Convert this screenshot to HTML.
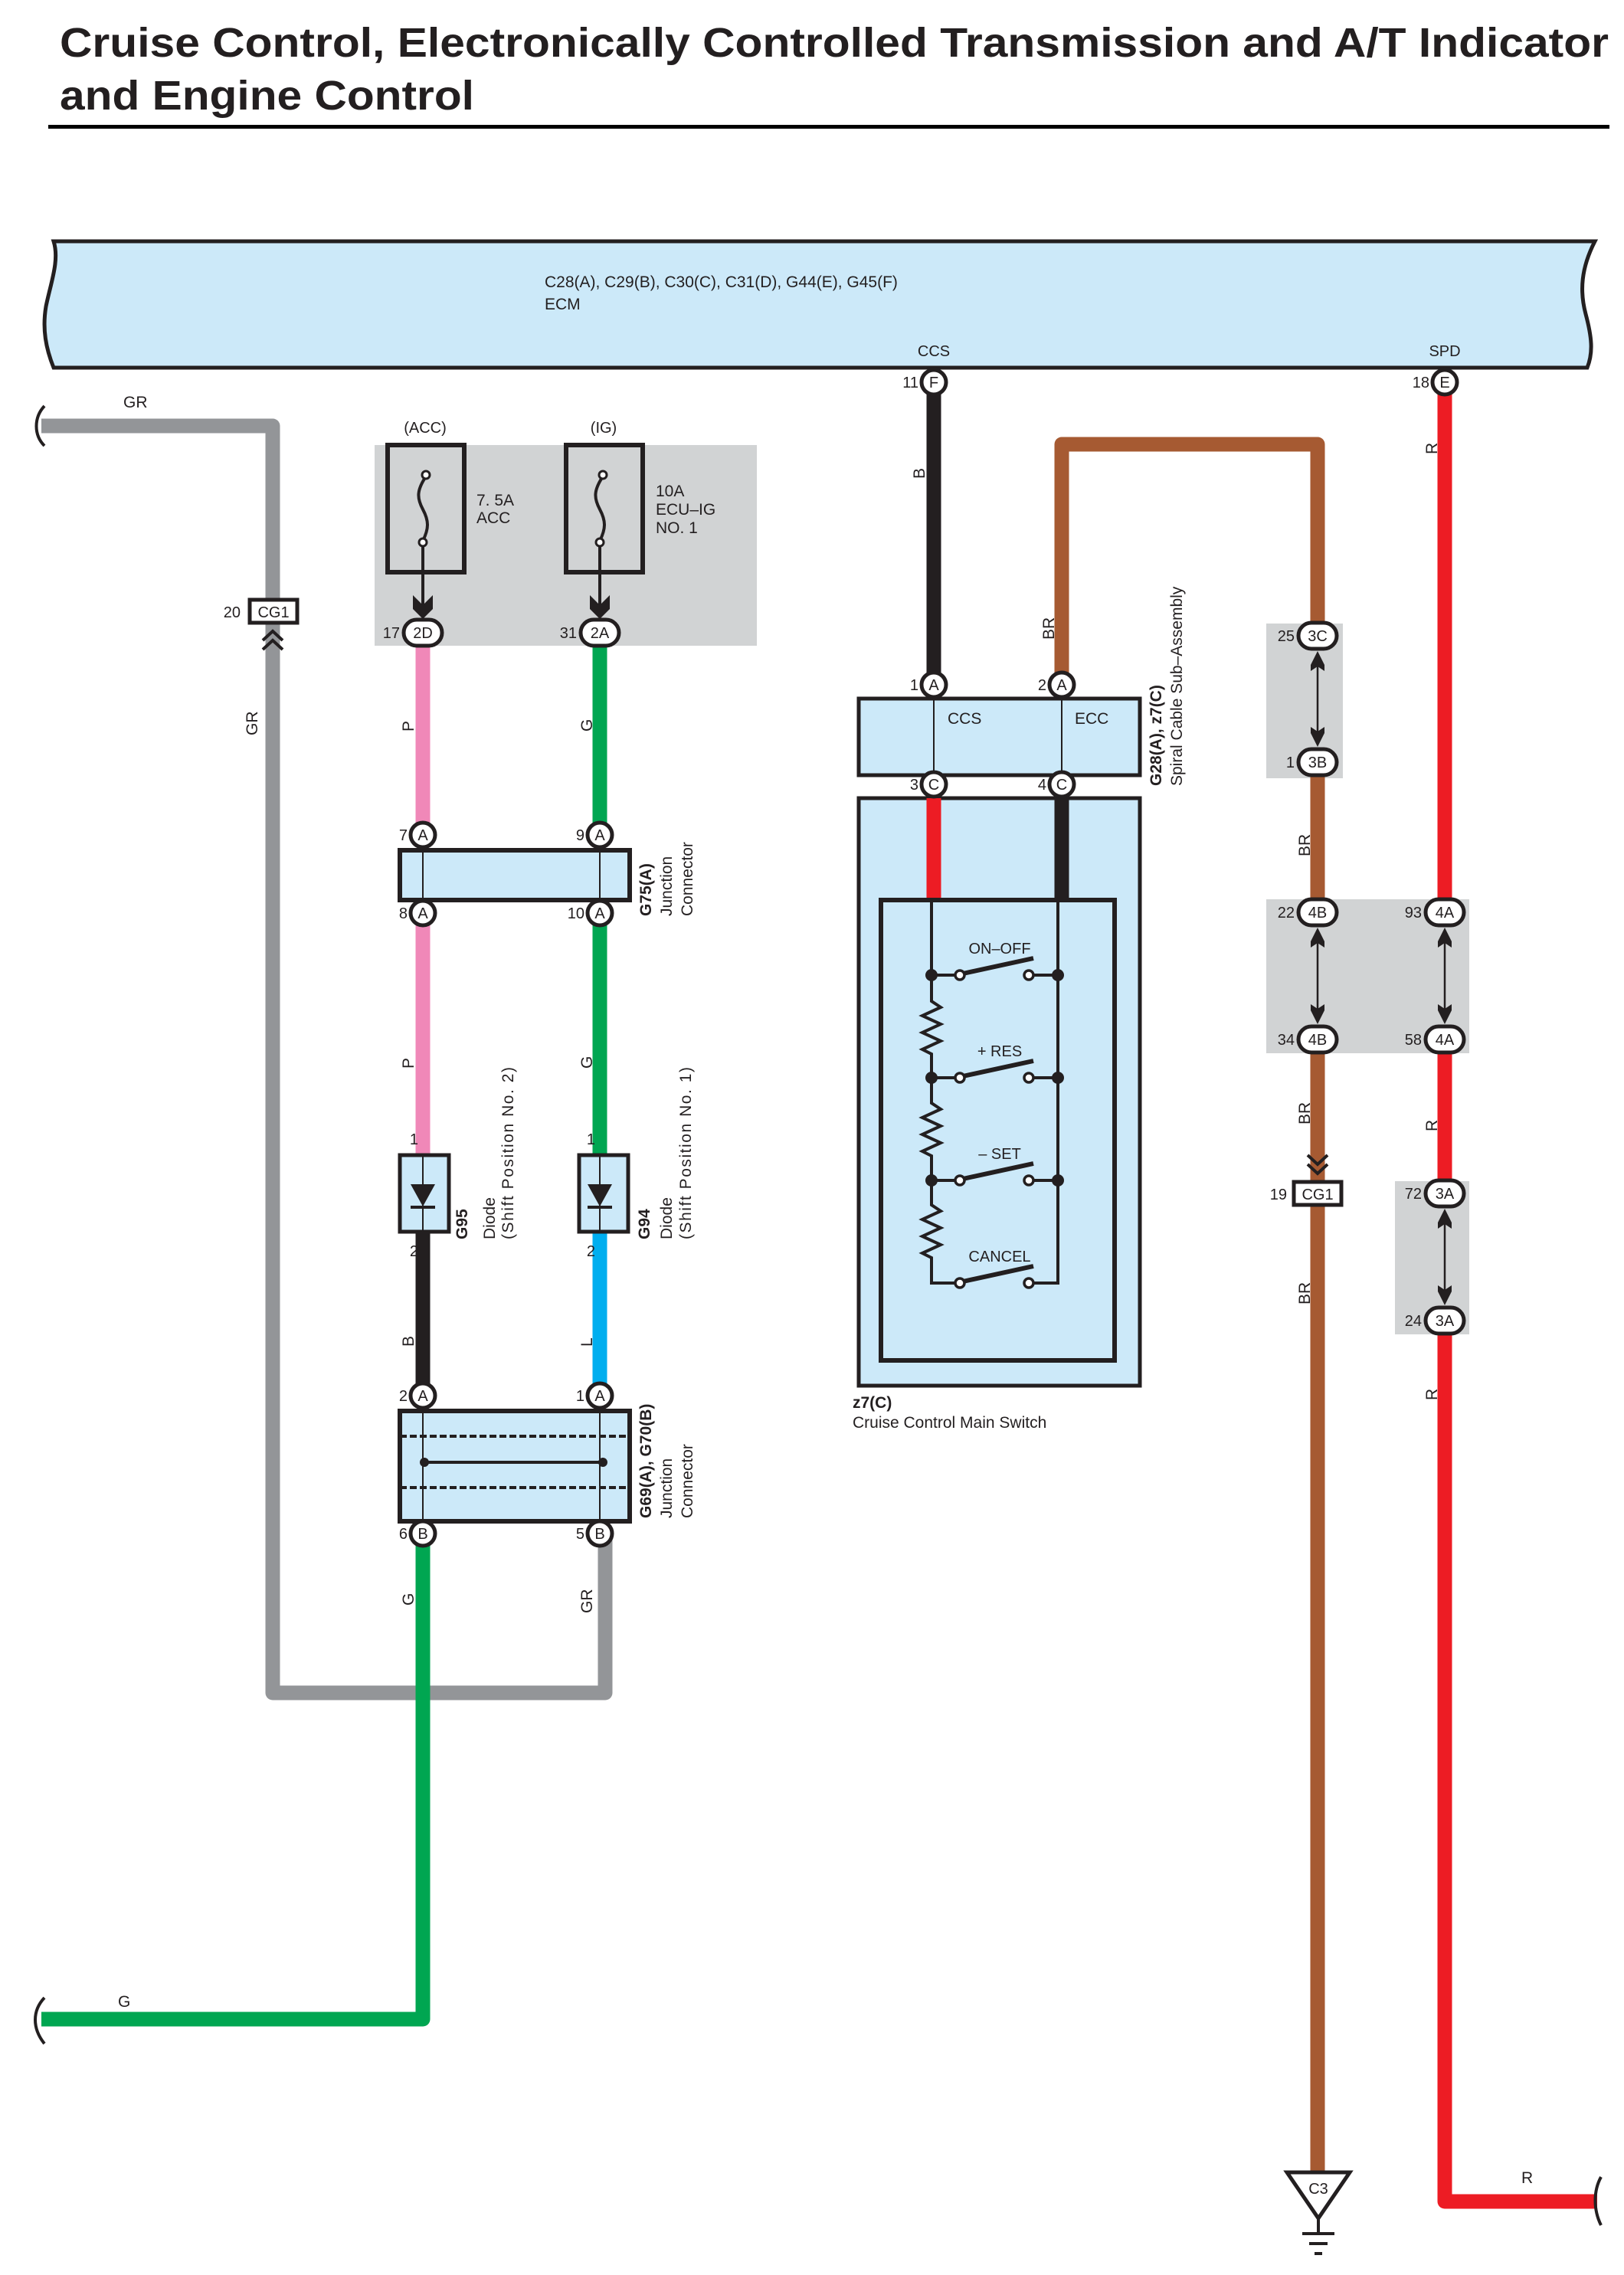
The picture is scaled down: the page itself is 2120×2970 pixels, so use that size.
<!DOCTYPE html>
<html><head><meta charset="utf-8"><style>
html,body{margin:0;padding:0;background:#fff}
svg{display:block}
text{font-family:"Liberation Sans",Arial,sans-serif;fill:#231f20}
.t{font-size:21px}
.p{font-size:20px;text-anchor:middle}
.n{font-size:20px;text-anchor:end}
.b{font-weight:bold}
</style></head><body>
<svg width="2120" height="2970" viewBox="0 0 2120 2970" xmlns="http://www.w3.org/2000/svg">
<!-- Title -->
<text x="78" y="74" font-size="54" font-weight="bold" textLength="2022" lengthAdjust="spacingAndGlyphs">Cruise Control, Electronically Controlled Transmission and A/T Indicator</text>
<text x="78" y="143" font-size="54" font-weight="bold" textLength="541" lengthAdjust="spacingAndGlyphs">and Engine Control</text>
<rect x="63" y="163" width="2038" height="5" fill="#000"/>

<!-- ECM -->
<path d="M70,315 L2082,315 C2064,350 2062,380 2070,410 C2078,440 2080,460 2072,480 L70,480 C60,455 55,430 60,400 C66,370 78,340 70,315 Z" fill="#cce9f9" stroke="#231f20" stroke-width="5"/>
<text x="711" y="375" class="t">C28(A), C29(B), C30(C), C31(D), G44(E), G45(F)</text>
<text x="711" y="404" class="t">ECM</text>
<text x="1219" y="465" class="p">CCS</text>
<text x="1886" y="465" class="p">SPD</text>

<!-- grey boxes -->
<rect x="489" y="581" width="499" height="262" fill="#d1d3d4"/>
<rect x="1653" y="814" width="100" height="202" fill="#d1d3d4"/>
<rect x="1653" y="1174" width="265" height="201" fill="#d1d3d4"/>
<rect x="1821" y="1542" width="97" height="200" fill="#d1d3d4"/>

<!-- wires -->
<g fill="none" stroke-width="19" stroke-linejoin="round">
<path d="M54,556 L356,556 L356,800" stroke="#939598"/>
<path d="M356,810 L356,2210 L790,2210 L790,2002" stroke="#939598"/>
<path d="M552,826 V1090 M552,1192 V1506" stroke="#f088b8"/>
<path d="M783,826 V1090 M783,1192 V1506" stroke="#00a651"/>
<path d="M552,1609 V1822" stroke="#231f20"/>
<path d="M783,1609 V1822" stroke="#00aeef"/>
<path d="M552,2002 V2636 L54,2636" stroke="#00a651"/>
<path d="M1219,499 V894" stroke="#231f20"/>
<path d="M1386,894 V580 L1720,580 V830" stroke="#a65a32"/>
<path d="M1720,995 V1191 M1720,1357 V2840" stroke="#a65a32"/>
<path d="M1886,499 V1191 M1886,1357 V1558 M1886,1724 V2874 L2085,2874" stroke="#ed1c24"/>
<path d="M1219,1024 V1175" stroke="#ed1c24"/>
<path d="M1386,1024 V1175" stroke="#231f20"/>
</g>
<!-- wavy breaks -->
<g fill="none" stroke="#231f20" stroke-width="4">
<path d="M58,530 C44,545 44,568 58,582"/>
<path d="M58,2608 C42,2625 42,2648 58,2668"/>
<path d="M2090,2842 C2080,2860 2080,2885 2090,2905"/>
</g>

<!-- wire labels -->
<g class="t">
<text x="161" y="532" font-size="21">GR</text>
<text x="154" y="2620" font-size="21">G</text>
<text x="1986" y="2850" font-size="21">R</text>
<text transform="translate(336,960) rotate(-90)">GR</text>
<text transform="translate(540,955) rotate(-90)">P</text>
<text transform="translate(773,955) rotate(-90)">G</text>
<text transform="translate(540,1395) rotate(-90)">P</text>
<text transform="translate(773,1395) rotate(-90)">G</text>
<text transform="translate(540,1758) rotate(-90)">B</text>
<text transform="translate(773,1758) rotate(-90)">L</text>
<text transform="translate(540,2096) rotate(-90)">G</text>
<text transform="translate(773,2106) rotate(-90)">GR</text>
<text transform="translate(1207,625) rotate(-90)">B</text>
<text transform="translate(1376,835) rotate(-90)">BR</text>
<text transform="translate(1876,593) rotate(-90)">R</text>
<text transform="translate(1207,1127) rotate(-90)">R</text>
<text transform="translate(1376,1127) rotate(-90)">B</text>
<text transform="translate(1710,1118) rotate(-90)">BR</text>
<text transform="translate(1710,1468) rotate(-90)">BR</text>
<text transform="translate(1710,1703) rotate(-90)">BR</text>
<text transform="translate(1876,1477) rotate(-90)">R</text>
<text transform="translate(1876,1828) rotate(-90)">R</text>
</g>

<!-- fuses -->
<g fill="none" stroke="#231f20">
<rect x="506" y="581" width="100" height="166" stroke-width="6"/>
<rect x="739" y="581" width="100" height="166" stroke-width="6"/>
<path d="M556,622 C544,640 544,650 552,665 C560,680 560,690 552,706" stroke-width="4"/>
<path d="M787,622 C775,640 775,650 783,665 C791,680 791,690 783,706" stroke-width="4"/>
<path d="M552,710 V800 M783,710 V800" stroke-width="4"/>
</g>
<circle cx="556" cy="620" r="5" fill="#fff" stroke="#231f20" stroke-width="3"/>
<circle cx="552" cy="708" r="5" fill="#fff" stroke="#231f20" stroke-width="3"/>
<circle cx="787" cy="620" r="5" fill="#fff" stroke="#231f20" stroke-width="3"/>
<circle cx="783" cy="708" r="5" fill="#fff" stroke="#231f20" stroke-width="3"/>
<path d="M539,777 L552,790 L565,777 L565,795 L552,808 L539,795 Z" fill="#231f20"/>
<path d="M770,777 L783,790 L796,777 L796,795 L783,808 L770,795 Z" fill="#231f20"/>
<text x="555" y="565" class="p">(ACC)</text>
<text x="788" y="565" class="p">(IG)</text>
<text x="622" y="660" class="t">7. 5A</text>
<text x="622" y="683" class="t">ACC</text>
<text x="856" y="648" class="t">10A</text>
<text x="856" y="672" class="t">ECU–IG</text>
<text x="856" y="696" class="t">NO. 1</text>

<!-- spiral cable -->
<rect x="1121" y="912" width="367" height="100" fill="#cce9f9" stroke="#231f20" stroke-width="5"/>
<path d="M1219,912 V1012 M1386,912 V1012" stroke="#231f20" stroke-width="2"/>
<text x="1237" y="945" class="t">CCS</text>
<text x="1403" y="945" class="t">ECC</text>
<text transform="translate(1516,1026) rotate(-90)" class="t b">G28(A), z7(C)</text>
<text transform="translate(1543,1026) rotate(-90)" class="t">Spiral Cable Sub–Assembly</text>

<!-- main switch -->
<rect x="1121" y="1042" width="367" height="767" fill="#cce9f9" stroke="#231f20" stroke-width="5"/>
<path d="M1219,1042 V1175" stroke="#ed1c24" stroke-width="19"/>
<path d="M1386,1042 V1175" stroke="#231f20" stroke-width="19"/>
<rect x="1150" y="1175" width="305" height="601" fill="none" stroke="#231f20" stroke-width="6"/>
<g fill="none" stroke="#231f20" stroke-width="4">
<path d="M1216,1175 V1307 l12,8 l-24,11 l24,11 l-24,11 l24,11 l-24,11 l12,6 V1440 l12,8 l-24,11 l24,11 l-24,11 l24,11 l-24,11 l12,6 V1573 l12,8 l-24,11 l24,11 l-24,11 l24,11 l-24,11 l12,6 V1675 H1249"/>
<path d="M1381,1175 V1675 H1347"/>
<path d="M1216,1273 H1249 M1216,1407 H1249 M1216,1541 H1249"/>
<path d="M1381,1273 H1347 M1381,1407 H1347 M1381,1541 H1347"/>
</g>
<g stroke="#231f20" stroke-width="6">
<path d="M1257,1271 L1349,1251 M1257,1405 L1349,1385 M1257,1539 L1349,1519 M1257,1673 L1349,1653"/>
</g>
<g fill="#231f20">
<circle cx="1216" cy="1273" r="8"/><circle cx="1381" cy="1273" r="8"/>
<circle cx="1216" cy="1407" r="8"/><circle cx="1381" cy="1407" r="8"/>
<circle cx="1216" cy="1541" r="8"/><circle cx="1381" cy="1541" r="8"/>
</g>
<g fill="#fff" stroke="#231f20" stroke-width="3.5">
<circle cx="1253" cy="1273" r="6"/><circle cx="1343" cy="1273" r="6"/>
<circle cx="1253" cy="1407" r="6"/><circle cx="1343" cy="1407" r="6"/>
<circle cx="1253" cy="1541" r="6"/><circle cx="1343" cy="1541" r="6"/>
<circle cx="1253" cy="1675" r="6"/><circle cx="1343" cy="1675" r="6"/>
</g>
<text x="1305" y="1245" class="p" font-size="22">ON–OFF</text>
<text x="1305" y="1379" class="p" font-size="22">+ RES</text>
<text x="1305" y="1513" class="p" font-size="22">– SET</text>
<text x="1305" y="1647" class="p" font-size="22">CANCEL</text>
<text x="1113" y="1838" class="t b">z7(C)</text>
<text x="1113" y="1864" class="t">Cruise Control Main Switch</text>

<!-- G75 junction -->
<rect x="522" y="1110" width="300" height="65" fill="#cce9f9" stroke="#231f20" stroke-width="6"/>
<path d="M552,1110 V1175 M783,1110 V1175" stroke="#231f20" stroke-width="2"/>
<text transform="translate(850,1196) rotate(-90)" class="t b">G75(A)</text>
<text transform="translate(877,1196) rotate(-90)" class="t">Junction</text>
<text transform="translate(904,1196) rotate(-90)" class="t">Connector</text>

<!-- diodes -->
<rect x="522" y="1508" width="64" height="100" fill="#cce9f9" stroke="#231f20" stroke-width="5"/>
<rect x="756" y="1508" width="64" height="100" fill="#cce9f9" stroke="#231f20" stroke-width="5"/>
<path d="M552,1508 V1608 M783,1508 V1608" stroke="#231f20" stroke-width="2"/>
<path d="M536,1546 H568 L552,1575 Z M767,1546 H799 L783,1575 Z" fill="#231f20"/>
<path d="M536,1576 H568 M767,1576 H799" stroke="#231f20" stroke-width="4"/>
<text x="546" y="1494" class="n">1</text><text x="546" y="1640" class="n">2</text>
<text x="777" y="1494" class="n">1</text><text x="777" y="1640" class="n">2</text>
<text transform="translate(610,1618) rotate(-90)" class="t b">G95</text>
<text transform="translate(646,1618) rotate(-90)" class="t">Diode</text>
<text transform="translate(670,1618) rotate(-90)" class="t" textLength="225">(Shift Position No. 2)</text>
<text transform="translate(848,1618) rotate(-90)" class="t b">G94</text>
<text transform="translate(877,1618) rotate(-90)" class="t">Diode</text>
<text transform="translate(902,1618) rotate(-90)" class="t" textLength="225">(Shift Position No. 1)</text>

<!-- G69/G70 junction -->
<rect x="522" y="1842" width="300" height="144" fill="#cce9f9" stroke="#231f20" stroke-width="6"/>
<path d="M552,1842 V1986 M783,1842 V1986" stroke="#231f20" stroke-width="2"/>
<path d="M522,1875 H822 M522,1942 H822" stroke="#231f20" stroke-width="4" stroke-dasharray="9,4"/>
<path d="M552,1909 H783" stroke="#231f20" stroke-width="4"/>
<circle cx="554" cy="1909" r="6" fill="#231f20"/><circle cx="787" cy="1909" r="6" fill="#231f20"/>
<text transform="translate(850,1982) rotate(-90)" class="t b">G69(A), G70(B)</text>
<text transform="translate(877,1982) rotate(-90)" class="t">Junction</text>
<text transform="translate(904,1982) rotate(-90)" class="t">Connector</text>

<!-- bidirectional arrows -->
<g stroke="#231f20" stroke-width="2.5"><path d="M1720,855 V970 M1720,1216 V1332 M1886,1216 V1332 M1886,1583 V1699"/></g>
<g fill="#231f20">
<path d="M1720,850 l-9,18 l9,-6 l9,6 Z M1711,868 v8 l9,-6 l9,6 v-8 l-9,-6z"/>
<path d="M1720,975 l-9,-18 l9,6 l9,-6 Z M1711,957 v-8 l9,6 l9,-6 v8 l-9,6z"/>
<path d="M1720,1211 l-9,18 l9,-6 l9,6 Z M1711,1229 v8 l9,-6 l9,6 v-8 l-9,-6z"/>
<path d="M1720,1337 l-9,-18 l9,6 l9,-6 Z M1711,1319 v-8 l9,6 l9,-6 v8 l-9,6z"/>
<path d="M1886,1211 l-9,18 l9,-6 l9,6 Z M1877,1229 v8 l9,-6 l9,6 v-8 l-9,-6z"/>
<path d="M1886,1337 l-9,-18 l9,6 l9,-6 Z M1877,1319 v-8 l9,6 l9,-6 v8 l-9,6z"/>
<path d="M1886,1578 l-9,18 l9,-6 l9,6 Z M1877,1596 v8 l9,-6 l9,6 v-8 l-9,-6z"/>
<path d="M1886,1704 l-9,-18 l9,6 l9,-6 Z M1877,1686 v-8 l9,6 l9,-6 v8 l-9,6z"/>
</g>

<!-- CG1 connectors -->
<rect x="326" y="783" width="62" height="30" fill="#fff" stroke="#231f20" stroke-width="5"/>
<text x="357" y="806" class="p">CG1</text>
<text x="314" y="806" class="n">20</text>
<path d="M343,836 L356,824 L369,836 M343,848 L356,836 L369,848" fill="none" stroke="#231f20" stroke-width="4"/>
<rect x="1689" y="1543" width="62" height="30" fill="#fff" stroke="#231f20" stroke-width="5"/>
<text x="1720" y="1566" class="p">CG1</text>
<text x="1680" y="1566" class="n">19</text>
<path d="M1707,1508 L1720,1520 L1733,1508 M1707,1520 L1720,1532 L1733,1520" fill="none" stroke="#231f20" stroke-width="4"/>

<!-- ground -->
<path d="M1680,2836 H1762 L1721,2896 Z" fill="#fff" stroke="#231f20" stroke-width="5"/>
<text x="1721" y="2864" class="p" font-size="19">C3</text>
<path d="M1721,2896 V2916 M1700,2916 H1742 M1709,2929 H1733 M1716,2942 H1726" stroke="#231f20" stroke-width="4"/>

<!-- pins -->
<g fill="#fff" stroke="#231f20" stroke-width="5">
<rect x="1203" y="483" width="32" height="32" rx="16"/>
<rect x="1870" y="483" width="32" height="32" rx="16"/>
<rect x="527" y="809" width="50" height="34" rx="17"/>
<rect x="758" y="809" width="50" height="34" rx="17"/>
<rect x="1203" y="878" width="32" height="32" rx="16"/>
<rect x="1370" y="878" width="32" height="32" rx="16"/>
<rect x="1203" y="1008" width="32" height="32" rx="16"/>
<rect x="1370" y="1008" width="32" height="32" rx="16"/>
<rect x="1695" y="813" width="50" height="34" rx="17"/>
<rect x="1695" y="978" width="50" height="34" rx="17"/>
<rect x="536" y="1074" width="32" height="32" rx="16"/>
<rect x="767" y="1074" width="32" height="32" rx="16"/>
<rect x="536" y="1176" width="32" height="32" rx="16"/>
<rect x="767" y="1176" width="32" height="32" rx="16"/>
<rect x="1695" y="1174" width="50" height="34" rx="17"/>
<rect x="1861" y="1174" width="50" height="34" rx="17"/>
<rect x="1695" y="1340" width="50" height="34" rx="17"/>
<rect x="1861" y="1340" width="50" height="34" rx="17"/>
<rect x="1861" y="1541" width="50" height="34" rx="17"/>
<rect x="1861" y="1707" width="50" height="34" rx="17"/>
<rect x="536" y="1806" width="32" height="32" rx="16"/>
<rect x="767" y="1806" width="32" height="32" rx="16"/>
<rect x="536" y="1986" width="32" height="32" rx="16"/>
<rect x="767" y="1986" width="32" height="32" rx="16"/>
</g>
<g class="p">
<text x="1219" y="506">F</text><text x="1886" y="506">E</text>
<text x="552" y="833">2D</text><text x="783" y="833">2A</text>
<text x="1219" y="901">A</text><text x="1386" y="901">A</text>
<text x="1219" y="1031">C</text><text x="1386" y="1031">C</text>
<text x="1720" y="837">3C</text><text x="1720" y="1002">3B</text>
<text x="552" y="1097">A</text><text x="783" y="1097">A</text>
<text x="552" y="1199">A</text><text x="783" y="1199">A</text>
<text x="1720" y="1198">4B</text><text x="1886" y="1198">4A</text>
<text x="1720" y="1364">4B</text><text x="1886" y="1364">4A</text>
<text x="1886" y="1565">3A</text><text x="1886" y="1731">3A</text>
<text x="552" y="1829">A</text><text x="783" y="1829">A</text>
<text x="552" y="2009">B</text><text x="783" y="2009">B</text>
</g>
<g class="n">
<text x="1199" y="506">11</text><text x="1866" y="506">18</text>
<text x="522" y="833">17</text><text x="753" y="833">31</text>
<text x="1199" y="901">1</text><text x="1366" y="901">2</text>
<text x="1199" y="1031">3</text><text x="1366" y="1031">4</text>
<text x="1690" y="837">25</text><text x="1690" y="1002">1</text>
<text x="532" y="1097">7</text><text x="763" y="1097">9</text>
<text x="532" y="1199">8</text><text x="763" y="1199">10</text>
<text x="1690" y="1198">22</text><text x="1856" y="1198">93</text>
<text x="1690" y="1364">34</text><text x="1856" y="1364">58</text>
<text x="1856" y="1565">72</text><text x="1856" y="1731">24</text>
<text x="532" y="1829">2</text><text x="763" y="1829">1</text>
<text x="532" y="2009">6</text><text x="763" y="2009">5</text>
</g>
</svg>
</body></html>
